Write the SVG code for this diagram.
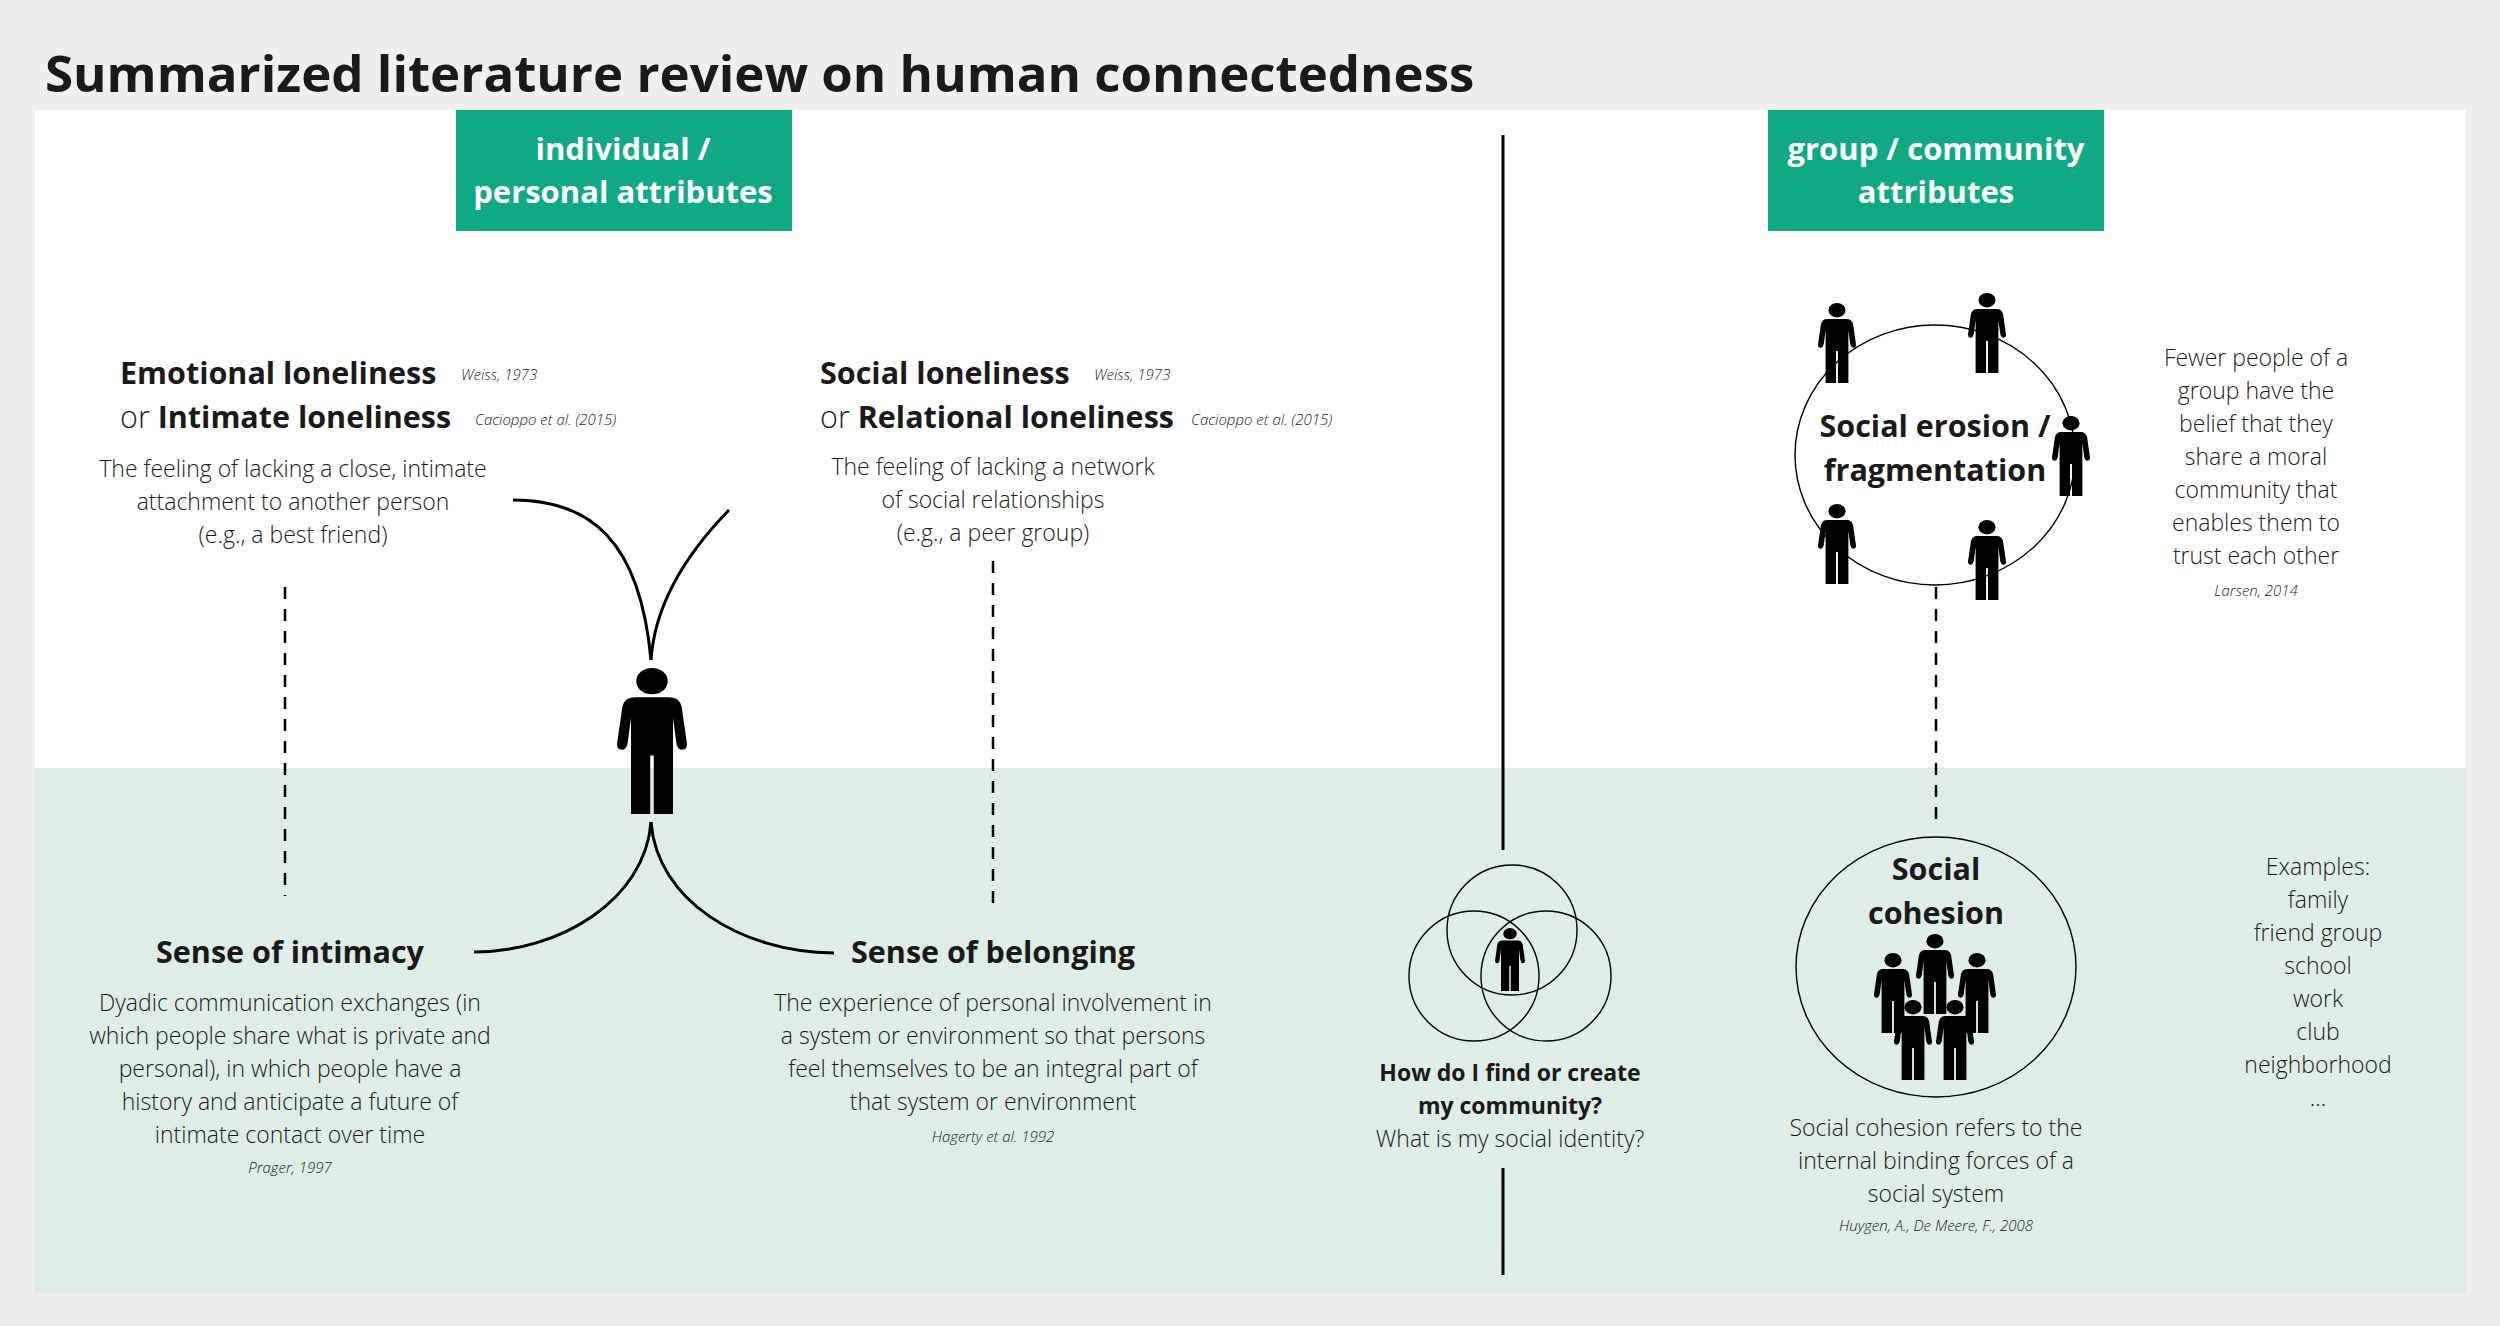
<svg xmlns="http://www.w3.org/2000/svg" xmlns:xlink="http://www.w3.org/1999/xlink" width="2500" height="1326" viewBox="0 0 2500 1326">
<style>
text{font-family:"Open Sans","Liberation Sans",sans-serif;fill:#1a1a1a}
.h{font-weight:700;font-size:30.5px}
.d{font-size:23px;text-anchor:middle;font-weight:300}
.c{font-size:15px;font-style:italic;font-weight:300}
.cm{font-size:15px;font-style:italic;font-weight:300;text-anchor:middle}
.box{fill:#11a884}
.bt{fill:#fff;font-weight:700;font-size:31px;text-anchor:middle}
.ln{fill:none;stroke:#000;stroke-width:3}
.dash{fill:none;stroke:#000;stroke-width:2.5;stroke-dasharray:12 10}
.ring{fill:none;stroke:#000;stroke-width:1.4}
.m{text-anchor:middle}
</style>
<defs>
<symbol id="person" viewBox="0 0 40 100" preserveAspectRatio="none">
<circle cx="20" cy="9" r="9"/>
<path d="M10 20 H30 Q36 20 37 27 L40 52 Q40 56 37 56 Q35 56 34 52 L32 34 V100 H21 V60 H19 V100 H8 V34 L6 52 Q5 56 3 56 Q0 56 0 52 L3 27 Q4 20 10 20 Z"/>
</symbol>
</defs>
<rect width="2500" height="1326" fill="#efefef"/>
<rect x="35" y="110" width="2431" height="658" fill="#fff"/>
<rect x="35" y="768" width="2431" height="525" fill="#deede5"/>
<text x="45" y="92" style="font-weight:700;font-size:51px">Summarized literature review on human connectedness</text>

<g id="box-individual"><rect class="box" x="456" y="110" width="336" height="121"/>
<text class="bt" x="623" y="160">individual /</text><text class="bt" x="623" y="203">personal attributes</text></g>
<g id="box-group"><rect class="box" x="1768" y="110" width="336" height="121"/>
<text class="bt" x="1936" y="160">group / community</text><text class="bt" x="1936" y="203">attributes</text></g>

<g id="connectors">
<path class="ln" d="M1503 135 V850"/>
<path class="ln" d="M1503 1168 V1275"/>
<path class="ln" d="M513 500 C590 500 640 540 651 660"/>
<path class="ln" d="M729 510 C690 550 655 600 651 660"/>
<path class="ln" d="M651 822 C645 900 560 952 474 952"/>
<path class="ln" d="M651 822 C657 900 740 952 834 953"/>
<path class="dash" d="M285 587 V896"/>
<path class="dash" d="M993 561 V912"/>
<path class="dash" d="M1936 587 V824"/>
</g>

<g id="emotional">
<text class="h" x="120" y="384">Emotional loneliness</text>
<text class="c" x="461" y="380">Weiss, 1973</text>
<text class="h" x="120" y="428"><tspan font-weight="300">or </tspan>Intimate loneliness</text>
<text class="c" x="475" y="425">Cacioppo et al. (2015)</text>
<text class="d" x="293" y="477">The feeling of lacking a close, intimate</text>
<text class="d" x="293" y="510">attachment to another person</text>
<text class="d" x="293" y="543">(e.g., a best friend)</text>
</g>
<g id="social-loneliness">
<text class="h" x="820" y="384">Social loneliness</text>
<text class="c" x="1094" y="380">Weiss, 1973</text>
<text class="h" x="820" y="428"><tspan font-weight="300">or </tspan>Relational loneliness</text>
<text class="c" x="1191" y="425">Cacioppo et al. (2015)</text>
<text class="d" x="993" y="475">The feeling of lacking a network</text>
<text class="d" x="993" y="508">of social relationships</text>
<text class="d" x="993" y="541">(e.g., a peer group)</text>
</g>
<g id="person-main"><use xlink:href="#person" x="617" y="668" width="70" height="146"/></g>

<g id="intimacy">
<text class="h m" x="290" y="963">Sense of intimacy</text>
<text class="d" x="290" y="1011">Dyadic communication exchanges (in</text>
<text class="d" x="290" y="1044">which people share what is private and</text>
<text class="d" x="290" y="1077">personal), in which people have a</text>
<text class="d" x="290" y="1110">history and anticipate a future of</text>
<text class="d" x="290" y="1143">intimate contact over time</text>
<text class="cm" x="290" y="1173">Prager, 1997</text>
</g>
<g id="belonging">
<text class="h m" x="993" y="963">Sense of belonging</text>
<text class="d" x="993" y="1011">The experience of personal involvement in</text>
<text class="d" x="993" y="1044">a system or environment so that persons</text>
<text class="d" x="993" y="1077">feel themselves to be an integral part of</text>
<text class="d" x="993" y="1110">that system or environment</text>
<text class="cm" x="993" y="1142">Hagerty et al. 1992</text>
</g>

<g id="community-venn">
<circle class="ring" cx="1512" cy="930" r="65"/>
<circle class="ring" cx="1474" cy="976" r="65"/>
<circle class="ring" cx="1546" cy="976" r="65"/>
<use xlink:href="#person" x="1495" y="928" width="30" height="63"/>
<text class="m" x="1510" y="1081" style="font-weight:700;font-size:23px">How do I find or create</text>
<text class="m" x="1510" y="1114" style="font-weight:700;font-size:23px">my community?</text>
<text class="d" x="1510" y="1147">What is my social identity?</text>
</g>

<g id="erosion">
<ellipse class="ring" cx="1935" cy="455" rx="140" ry="130"/>
<use xlink:href="#person" x="1818" y="303" width="38" height="80"/>
<use xlink:href="#person" x="1968" y="293" width="38" height="80"/>
<use xlink:href="#person" x="2052" y="416" width="38" height="80"/>
<use xlink:href="#person" x="1818" y="504" width="38" height="80"/>
<use xlink:href="#person" x="1968" y="520" width="38" height="80"/>
<text class="h m" x="1935" y="437">Social erosion /</text>
<text class="h m" x="1935" y="481">fragmentation</text>
</g>
<g id="erosion-desc">
<text class="d" x="2256" y="366">Fewer people of a</text>
<text class="d" x="2256" y="399">group have the</text>
<text class="d" x="2256" y="432">belief that they</text>
<text class="d" x="2256" y="465">share a moral</text>
<text class="d" x="2256" y="498">community that</text>
<text class="d" x="2256" y="531">enables them to</text>
<text class="d" x="2256" y="564">trust each other</text>
<text class="cm" x="2256" y="596">Larsen, 2014</text>
</g>

<g id="cohesion">
<ellipse class="ring" cx="1936" cy="967" rx="140" ry="130"/>
<text class="h m" x="1936" y="880">Social</text>
<text class="h m" x="1936" y="924">cohesion</text>
<use xlink:href="#person" x="1916" y="934" width="38" height="80"/>
<use xlink:href="#person" x="1874" y="953" width="38" height="80"/>
<use xlink:href="#person" x="1958" y="953" width="38" height="80"/>
<use xlink:href="#person" x="1894" y="1000" width="38" height="80"/>
<use xlink:href="#person" x="1936" y="1000" width="38" height="80"/>
<text class="d" x="1936" y="1136">Social cohesion refers to the</text>
<text class="d" x="1936" y="1169">internal binding forces of a</text>
<text class="d" x="1936" y="1202">social system</text>
<text class="cm" x="1936" y="1231">Huygen, A., De Meere, F., 2008</text>
</g>
<g id="examples">
<text class="d" x="2318" y="875">Examples:</text>
<text class="d" x="2318" y="908">family</text>
<text class="d" x="2318" y="941">friend group</text>
<text class="d" x="2318" y="974">school</text>
<text class="d" x="2318" y="1007">work</text>
<text class="d" x="2318" y="1040">club</text>
<text class="d" x="2318" y="1073">neighborhood</text>
<text class="d" x="2318" y="1106">...</text>
</g>
</svg>
